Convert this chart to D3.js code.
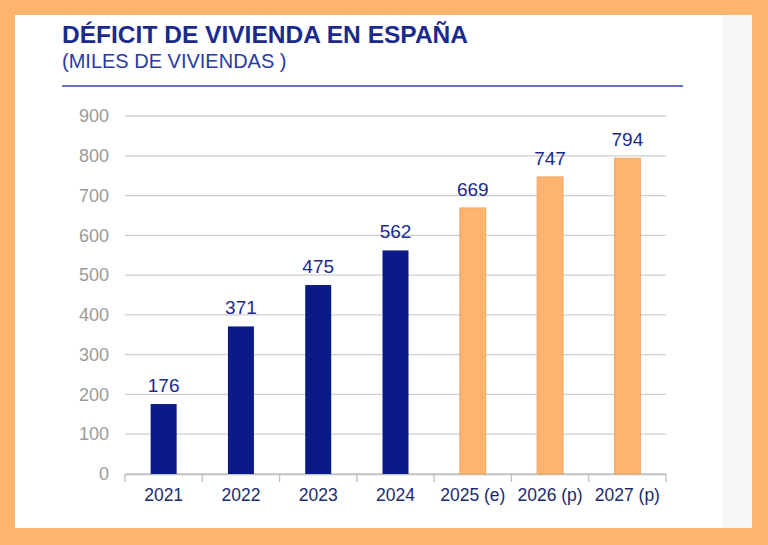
<!DOCTYPE html>
<html lang="es">
<head>
<meta charset="UTF-8">
<script src="https://cdn.jsdelivr.net/npm/d3@7"></script>
<style>
  body { margin: 0; background: #fdb46e; }
  svg { display: block; font-family: Arial, "Liberation Sans", sans-serif; }
</style>
</head>
<body>
<svg id="chart" width="768" height="545"></svg>
<script>
// data
const years = ["2021", "2022", "2023", "2024", "2025 (e)", "2026 (p)", "2027 (p)"];
const deficit = [176, 371, 475, 562, 669, 747, 794];
const isForecast = [false, false, false, false, true, true, true];
const yTicks = [0, 100, 200, 300, 400, 500, 600, 700, 800, 900];

const navy = "#0a1a86";
const orange = "#fdb46e";

const svg = d3.select("#chart");

// background panel
svg.append("rect").attr("x", 0).attr("y", 0).attr("width", 768).attr("height", 545).attr("fill", orange);
svg.append("rect").attr("x", 15).attr("y", 15).attr("width", 737).attr("height", 513).attr("fill", "#f6f7f7");
svg.append("rect").attr("x", 15).attr("y", 15).attr("width", 708).attr("height", 513).attr("fill", "#fff");

// titles
svg.append("text").attr("x", 62).attr("y", 43)
  .attr("font-size", 24.5).attr("font-weight", "bold").attr("fill", "#1a2a8c")
  .attr("textLength", 406)
  .text("DÉFICIT DE VIVIENDA EN ESPAÑA");
svg.append("text").attr("x", 62).attr("y", 68)
  .attr("font-size", 20).attr("fill", "#2a3aa0")
  .text("(MILES DE VIVIENDAS )");
svg.append("line").attr("x1", 62).attr("x2", 683).attr("y1", 86).attr("y2", 86)
  .attr("stroke", "#3040c0").attr("stroke-width", 1.5);

const x = d3.scaleBand().domain(years).range([125, 666]).padding(0);
const y = d3.scaleLinear().domain([0, 900]).range([474, 116]);

// gridlines
svg.append("g").selectAll("line").data(yTicks).join("line")
  .attr("x1", 125).attr("x2", 666)
  .attr("y1", d => y(d)).attr("y2", d => y(d))
  .attr("stroke", "#cfcfcf").attr("stroke-width", 1.3);

// y axis labels
const yAxis = svg.append("g").attr("transform", "translate(109,0)")
  .call(d3.axisLeft(y).tickValues(yTicks).tickSize(0).tickPadding(0));
yAxis.select(".domain").remove();
yAxis.selectAll("text").attr("font-size", 18).attr("fill", "#9a9a9a").attr("font-family", "Arial, 'Liberation Sans', sans-serif");

// x axis
const xAxis = svg.append("g").attr("transform", "translate(0,474)")
  .call(d3.axisBottom(x).tickSize(0).tickPadding(15));
xAxis.select(".domain").attr("stroke", "#bfbfbf").attr("stroke-width", 1.3);
xAxis.selectAll("text").attr("font-size", 17.5).attr("fill", "#1a2a6c").attr("font-family", "Arial, 'Liberation Sans', sans-serif");
// category separators
const step = x.step();
svg.append("g").selectAll("line").data(d3.range(years.length + 1)).join("line")
  .attr("x1", i => 125 + i * step).attr("x2", i => 125 + i * step)
  .attr("y1", 474).attr("y2", 482)
  .attr("stroke", "#bfbfbf").attr("stroke-width", 1.3);

// bars
const bw = 26;
svg.append("g").selectAll("rect").data(years).join("rect")
  .attr("x", d => x(d) + x.bandwidth() / 2 - bw / 2)
  .attr("width", bw)
  .attr("y", (d, i) => y(deficit[i]))
  .attr("height", (d, i) => y(0) - y(deficit[i]))
  .attr("fill", (d, i) => isForecast[i] ? orange : navy)
  .attr("stroke", (d, i) => isForecast[i] ? "#e8a060" : "none")
  .attr("stroke-width", 0.8);

// value labels
svg.append("g").selectAll("text").data(years).join("text")
  .attr("x", d => x(d) + x.bandwidth() / 2)
  .attr("y", (d, i) => y(deficit[i]) - 12)
  .attr("text-anchor", "middle")
  .attr("font-size", 19).attr("fill", "#1a2a8c")
  .text((d, i) => deficit[i]);
</script>
</body>
</html>
